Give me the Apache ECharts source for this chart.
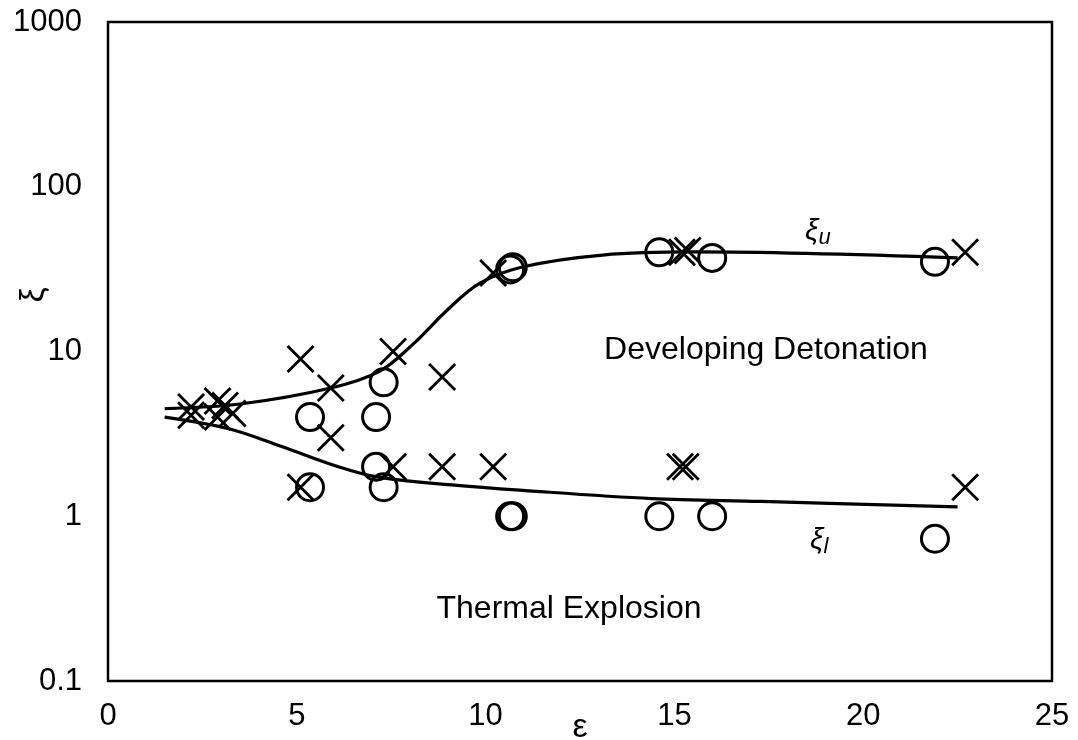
<!DOCTYPE html>
<html>
<head>
<meta charset="utf-8">
<script src="https://cdn.jsdelivr.net/npm/echarts@6/dist/echarts.min.js"></script>
<style>
  html, body { margin: 0; padding: 0; background: #fff; }
  #chart { width: 1078px; height: 740px; }
</style>
</head>
<body>
<div id="chart"></div>
<script>
// Boundary curves: upper limit (xi_u) and lower limit (xi_l) versus epsilon
const upperBoundary = [
  [1.5, 4.5], [3.5, 4.8], [5.9, 6.0], [7.2, 7.6], [8.1, 11.2],
  [9.0, 18], [9.85, 26], [11.0, 32.7], [13.1, 38.5], [15.5, 40.2], [22.5, 37]
];
const lowerBoundary = [
  [1.5, 4.0], [3.2, 3.4], [4.6, 2.65], [6.1, 2.0], [7.2, 1.72],
  [9.1, 1.55], [10.9, 1.44], [14.4, 1.28], [17.3, 1.23], [22.5, 1.14]
];

// Observed cases, circles
const circleCases = [
  [5.35, 4.0], [7.1, 4.0], [7.3, 6.5], [10.65, 31.5], [10.72, 32.5],
  [14.6, 40], [16.0, 37], [21.9, 35],
  [5.35, 1.5], [7.3, 1.5], [7.1, 2.0], [10.65, 1.0], [10.72, 1.0],
  [14.6, 1.0], [16.0, 1.0], [21.9, 0.73]
];

// Observed cases, crosses
const crossCases = [
  [2.2, 4.6], [2.2, 4.1], [2.9, 5.0], [3.1, 4.7], [3.3, 4.2], [2.9, 4.0],
  [5.1, 9.0], [5.9, 6.0], [5.9, 3.0], [7.55, 10.0], [8.85, 7.0], [10.2, 30],
  [15.2, 40], [15.35, 41], [22.7, 40],
  [5.1, 1.5], [7.55, 2.0], [8.85, 2.0], [10.2, 2.0], [15.15, 2.0], [15.3, 2.0],
  [22.7, 1.5]
];

const xTicks = [0, 5, 10, 15, 20, 25];
const yTickLabels = ['0.1', '1', '10', '100', '1000'];

const FONT = '"Liberation Sans", Arial, sans-serif';
const chart = echarts.init(document.getElementById('chart'), null, { renderer: 'canvas' });

const crossPath = 'path://M0,0L10,10M10,0L0,10';

chart.setOption({
  backgroundColor: '#fff',
  animation: false,
  grid: {
    left: 108, top: 22, right: 26, bottom: 59,
    show: true, borderColor: '#000', borderWidth: 2.5, backgroundColor: 'transparent'
  },
  xAxis: {
    type: 'value',
    min: xTicks[0], max: xTicks[xTicks.length - 1], interval: 5,
    axisLine: { show: false },
    axisTick: { show: false },
    splitLine: { show: false },
    axisLabel: {
      color: '#000', fontFamily: FONT, fontSize: 31, margin: 20,
      formatter: v => String(v)
    }
  },
  yAxis: {
    type: 'log', logBase: 10, min: 0.1, max: 1000,
    axisLine: { show: false },
    axisTick: { show: false },
    splitLine: { show: false },
    minorTick: { show: false },
    axisLabel: {
      color: '#000', fontFamily: FONT, fontSize: 31, margin: 26,
      formatter: v => yTickLabels[Math.round(Math.log10(v)) + 1]
    }
  },
  series: [
    {
      name: 'upper', type: 'line', data: upperBoundary,
      smooth: 0.35, showSymbol: false,
      lineStyle: { color: '#000', width: 3.2 }, z: 3
    },
    {
      name: 'lower', type: 'line', data: lowerBoundary,
      smooth: 0.35, showSymbol: false,
      lineStyle: { color: '#000', width: 3.2 }, z: 3
    },
    {
      name: 'circles', type: 'scatter', data: circleCases,
      symbol: 'circle', symbolSize: 27,
      itemStyle: { color: 'transparent', borderColor: '#000', borderWidth: 3, opacity: 1 },
      z: 4
    },
    {
      name: 'crosses', type: 'scatter', data: crossCases,
      symbol: crossPath, symbolSize: 26,
      itemStyle: { color: 'transparent', borderColor: '#000', borderWidth: 2.8, opacity: 1 },
      z: 4
    }
  ],
  graphic: [
    {
      type: 'text', x: 34, y: 295, rotation: Math.PI / 2,
      style: { text: 'ξ', font: '34px ' + FONT, fill: '#000', align: 'center', verticalAlign: 'middle' }
    },
    {
      type: 'text', x: 580, y: 728,
      style: { text: 'ε', font: '34px ' + FONT, fill: '#000', align: 'center', verticalAlign: 'middle' }
    },
    {
      type: 'text', x: 766, y: 350,
      style: { text: 'Developing Detonation', font: '32px ' + FONT, fill: '#000', align: 'center', verticalAlign: 'middle' }
    },
    {
      type: 'text', x: 569, y: 609,
      style: { text: 'Thermal Explosion', font: '32px ' + FONT, fill: '#000', align: 'center', verticalAlign: 'middle' }
    },
    {
      type: 'text', x: 805, y: 232,
      style: {
        text: '{a|ξ}{b|u}', verticalAlign: 'middle',
        rich: {
          a: { font: 'italic 30px ' + FONT, fill: '#000' },
          b: { font: 'italic 22px ' + FONT, fill: '#000', padding: [12, 0, 0, 0] }
        }
      }
    },
    {
      type: 'text', x: 810, y: 541,
      style: {
        text: '{a|ξ}{b|l}', verticalAlign: 'middle',
        rich: {
          a: { font: 'italic 30px ' + FONT, fill: '#000' },
          b: { font: 'italic 22px ' + FONT, fill: '#000', padding: [12, 0, 0, 0] }
        }
      }
    }
  ]
});
</script>
</body>
</html>
